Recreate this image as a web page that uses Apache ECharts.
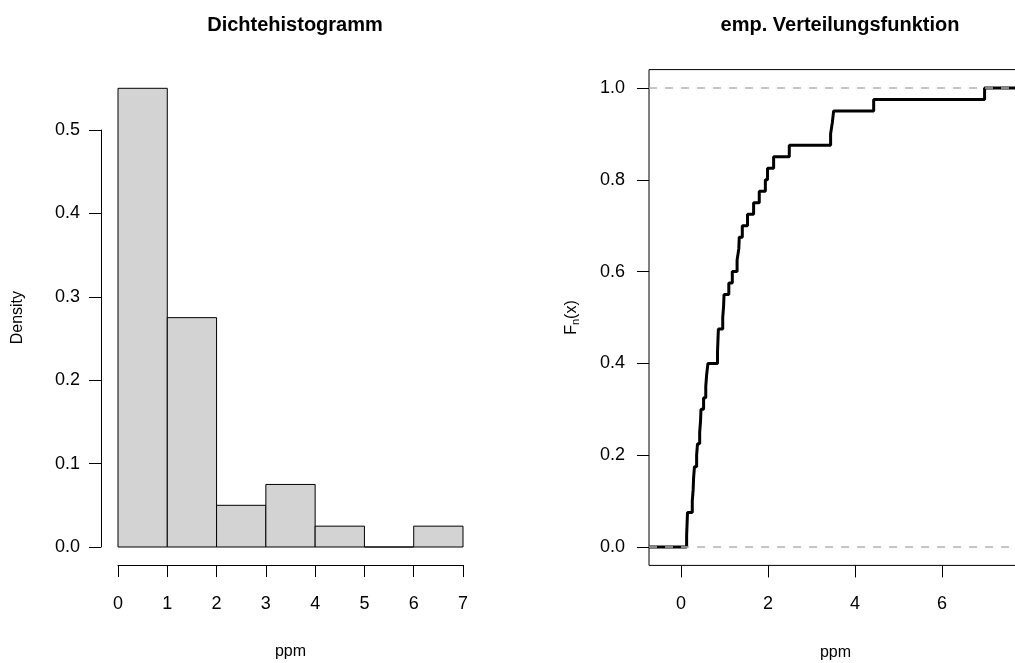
<!DOCTYPE html>
<html>
<head>
<meta charset="utf-8">
<script src="https://cdn.jsdelivr.net/npm/echarts@6/dist/echarts.min.js"></script>
<style>
html,body{margin:0;padding:0;background:#fff;}
#chart{width:1015px;height:663px;}
</style>
</head>
<body>
<div id="chart"></div>
<script>
// ---- data ----
const histBreaks = [0, 1, 2, 3, 4, 5, 6, 7];
const histDensity = [0.55, 0.275, 0.05, 0.075, 0.025, 0, 0.025];
// sorted observations (ppm) read from the empirical distribution function
const ppmValues = [
  0.12, 0.13, 0.14,
  0.25, 0.27, 0.28, 0.30,
  0.35, 0.37,
  0.42, 0.44, 0.45,
  0.51,
  0.56, 0.58,
  0.61,
  0.83, 0.84, 0.85,
  0.95, 0.97, 0.98,
  1.09, 1.17, 1.28, 1.32, 1.33, 1.40, 1.52, 1.66, 1.79, 1.93, 1.98,
  2.12, 2.48,
  3.43, 3.47, 3.50,
  4.42,
  6.97
];
const titles = ['Dichtehistogramm', 'emp. Verteilungsfunktion'];

// ---- derived ----
const histData = histDensity.map((d, i) => [histBreaks[i], histBreaks[i + 1], d]);
const ecdfXMin = -0.745, ecdfXMax = 7.83;
const n = ppmValues.length;
const ecdfData = [[ecdfXMin, 0]];
ppmValues.forEach((v, i) => ecdfData.push([v, (i + 1) / n]));
ecdfData.push([ecdfXMax, 1]);

const FONT = '"Liberation Sans", Arial, Helvetica, sans-serif';
const tickFont = 18;
const nameFont = 16;

const chart = echarts.init(document.getElementById('chart'), null, {renderer: 'canvas'});

const hiddenAxisBase = {
  axisLine: {show: false, onZero: false}, axisTick: {show: false}, axisLabel: {show: false}, splitLine: {show: false}
};
const lineOn = {show: true, onZero: false, lineStyle: {color: '#000', width: 1}};
const lineOff = {show: false, onZero: false};
const ticks = {show: true, length: 12, lineStyle: {color: '#000', width: 1}};
const gridBase = {containLabel: false, outerBoundsMode: 'none'};

const option = {
  backgroundColor: '#ffffff',
  animation: false,
  textStyle: {fontFamily: FONT, color: '#000'},
  title: [
    {text: titles[0], left: 290, top: 10, textAlign: 'center',
     textStyle: {fontFamily: FONT, fontWeight: 'bold', fontSize: 20, color: '#000'}},
    {text: titles[1], left: 835, top: 10, textAlign: 'center',
     textStyle: {fontFamily: FONT, fontWeight: 'bold', fontSize: 20, color: '#000'}}
  ],
  grid: [
    // 0: histogram bars, y 0..0.55
    Object.assign({left: 118, top: 88.3, width: 345, height: 458.7}, gridBase),
    // 1: histogram y tick axis, y 0..0.5
    Object.assign({left: 118, top: 130, width: 345, height: 417}, gridBase),
    // 2: ecdf box
    Object.assign({left: 649, top: 69.6, width: 373, height: 495.8, show: true, borderColor: '#000', borderWidth: 1, backgroundColor: 'transparent'}, gridBase),
    // 3: ecdf tick axes, x 0..6, y 0..1
    Object.assign({left: 681, top: 88, width: 261, height: 459}, gridBase)
  ],
  xAxis: [
    {gridIndex: 0, type: 'value', min: 0, max: 7, interval: 1, position: 'bottom', offset: 18,
     axisLine: lineOn, axisTick: ticks,
     axisLabel: {show: true, margin: 30, fontSize: tickFont, fontFamily: FONT, color: '#000'},
     splitLine: {show: false},
     name: 'ppm', nameLocation: 'middle', nameGap: 79,
     nameTextStyle: {fontSize: nameFont, fontFamily: FONT, color: '#000'}},
    Object.assign({gridIndex: 1, type: 'value', min: 0, max: 7, show: false}, hiddenAxisBase),
    Object.assign({gridIndex: 2, type: 'value', min: ecdfXMin, max: ecdfXMax, show: true,
     name: 'ppm', nameLocation: 'middle', nameGap: 79,
     nameTextStyle: {fontSize: nameFont, fontFamily: FONT, color: '#000'}}, hiddenAxisBase),
    {gridIndex: 3, type: 'value', min: 0, max: 6, interval: 2, position: 'bottom', offset: 18.4,
     axisLine: lineOff, axisTick: ticks,
     axisLabel: {show: true, margin: 30, fontSize: tickFont, fontFamily: FONT, color: '#000'},
     splitLine: {show: false}}
  ],
  yAxis: [
    Object.assign({gridIndex: 0, type: 'value', min: 0, max: 0.55, offset: 17, show: true,
     name: 'Density', nameLocation: 'middle', nameGap: 75, nameRotate: 90,
     nameTextStyle: {fontSize: nameFont, fontFamily: FONT, color: '#000'}}, hiddenAxisBase),
    {gridIndex: 1, type: 'value', min: 0, max: 0.5, interval: 0.1, position: 'left', offset: 17,
     axisLine: lineOn, axisTick: ticks,
     axisLabel: {show: true, margin: 21, fontSize: tickFont, fontFamily: FONT, color: '#000',
       formatter: v => v.toFixed(1)},
     splitLine: {show: false}},
    Object.assign({gridIndex: 2, type: 'value', min: -0.04, max: 1.04, show: true,
     name: '{a|F}{s|n}{a|(x)}', nameLocation: 'middle', nameGap: 68, nameRotate: 90,
     nameTextStyle: {fontSize: nameFont, fontFamily: FONT, color: '#000',
       rich: {
         a: {fontSize: nameFont, fontFamily: FONT, color: '#000'},
         s: {fontSize: 11, fontFamily: FONT, color: '#000', verticalAlign: 'bottom', padding: [8, 0, 0, 0]}
       }}}, hiddenAxisBase),
    {gridIndex: 3, type: 'value', min: 0, max: 1, interval: 0.2, position: 'left', offset: 32,
     axisLine: lineOff, axisTick: ticks,
     axisLabel: {show: true, margin: 24, fontSize: tickFont, fontFamily: FONT, color: '#000',
       formatter: v => v.toFixed(1)},
     splitLine: {show: false}}
  ],
  series: [
    {
      type: 'custom', xAxisIndex: 0, yAxisIndex: 0,
      data: histData,
      encode: {x: [0, 1], y: 2},
      renderItem: function (params, api) {
        const p0 = api.coord([api.value(0), 0]);
        const p1 = api.coord([api.value(1), api.value(2)]);
        return {
          type: 'rect',
          shape: {x: p0[0], y: p1[1], width: p1[0] - p0[0], height: p0[1] - p1[1]},
          style: {fill: '#d3d3d3', stroke: '#000', lineWidth: 1}
        };
      }
    },
    {
      type: 'line', xAxisIndex: 2, yAxisIndex: 2,
      data: ecdfData, step: 'end', showSymbol: false, symbol: 'none',
      lineStyle: {color: '#000', width: 3},
      clip: true,
      z: 2,
      markLine: {
        silent: true, symbol: 'none', label: {show: false},
        lineStyle: {color: '#b3b3b3', width: 1.5, type: [8, 8]},
        data: [{yAxis: 0}, {yAxis: 1}],
        z: 5
      }
    }
  ]
};
chart.setOption(option);
</script>
</body>
</html>
